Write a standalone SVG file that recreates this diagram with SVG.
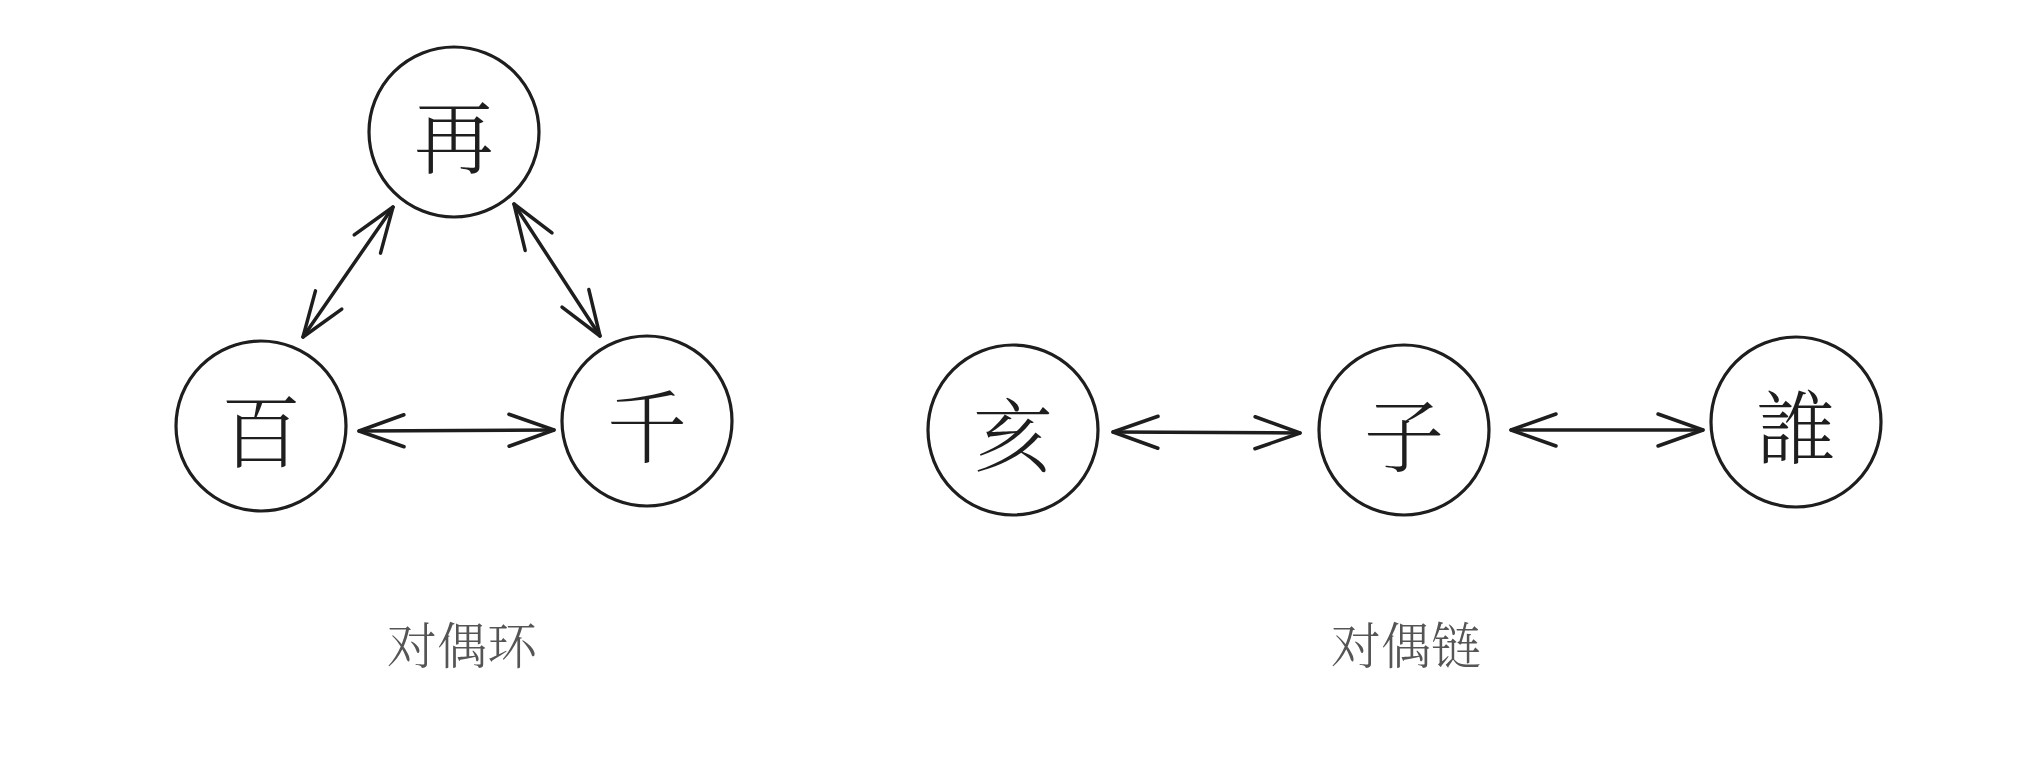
<svg xmlns="http://www.w3.org/2000/svg" width="2024" height="765" viewBox="0 0 2024 765">
<style>
.node circle{fill:#fff;stroke:#1e1e1e;stroke-width:3.2}
.node text{font-family:"Noto Serif CJK SC","Noto Sans CJK SC",serif;font-size:80px;font-weight:300;fill:#1e1e1e;text-anchor:middle;dominant-baseline:central}
.edge{fill:none;stroke:#1e1e1e;stroke-width:3.5;stroke-linecap:round;marker-start:url(#ah);marker-end:url(#ah)}
.label{font-family:"Noto Serif CJK SC","Noto Sans CJK SC",serif;font-size:50px;font-weight:300;fill:#555;text-anchor:middle;dominant-baseline:central}
</style>
<defs>
<marker id="ah" markerUnits="userSpaceOnUse" markerWidth="60" markerHeight="60" viewBox="-50 -25 60 50" refX="0" refY="0" orient="auto-start-reverse">
<path d="M-45,-16 L0,0 L-45,16" fill="none" stroke="#1e1e1e" stroke-width="3.5" stroke-linecap="round" stroke-linejoin="round"/>
</marker>
</defs>
<rect width="2024" height="765" fill="#fff"/>
<g id="connectors">
<line class="edge" x1="393" y1="207" x2="303" y2="337"/>
<line class="edge" x1="514" y1="204" x2="600" y2="336"/>
<line class="edge" x1="359" y1="431" x2="554" y2="430"/>
<line class="edge" x1="1113" y1="432" x2="1300" y2="433"/>
<line class="edge" x1="1511" y1="430" x2="1703" y2="430"/>
</g>
<g id="node-zai" class="node"><circle cx="454" cy="132" r="85"/><text x="454" y="132">再</text></g>
<g id="node-bai" class="node"><circle cx="261" cy="426" r="85"/><text x="261" y="426">百</text></g>
<g id="node-qian" class="node"><circle cx="647" cy="421" r="85"/><text x="647" y="421">千</text></g>
<g id="node-hai" class="node"><circle cx="1013" cy="430" r="85"/><text x="1013" y="430">亥</text></g>
<g id="node-zi" class="node"><circle cx="1404" cy="430" r="85"/><text x="1404" y="430">子</text></g>
<g id="node-shui" class="node"><circle cx="1796" cy="422" r="85"/><text x="1796" y="422">誰</text></g>
<g id="labels">
<text class="label" x="462" y="642">对偶环</text>
<text class="label" x="1406" y="642">对偶链</text>
</g>
</svg>
